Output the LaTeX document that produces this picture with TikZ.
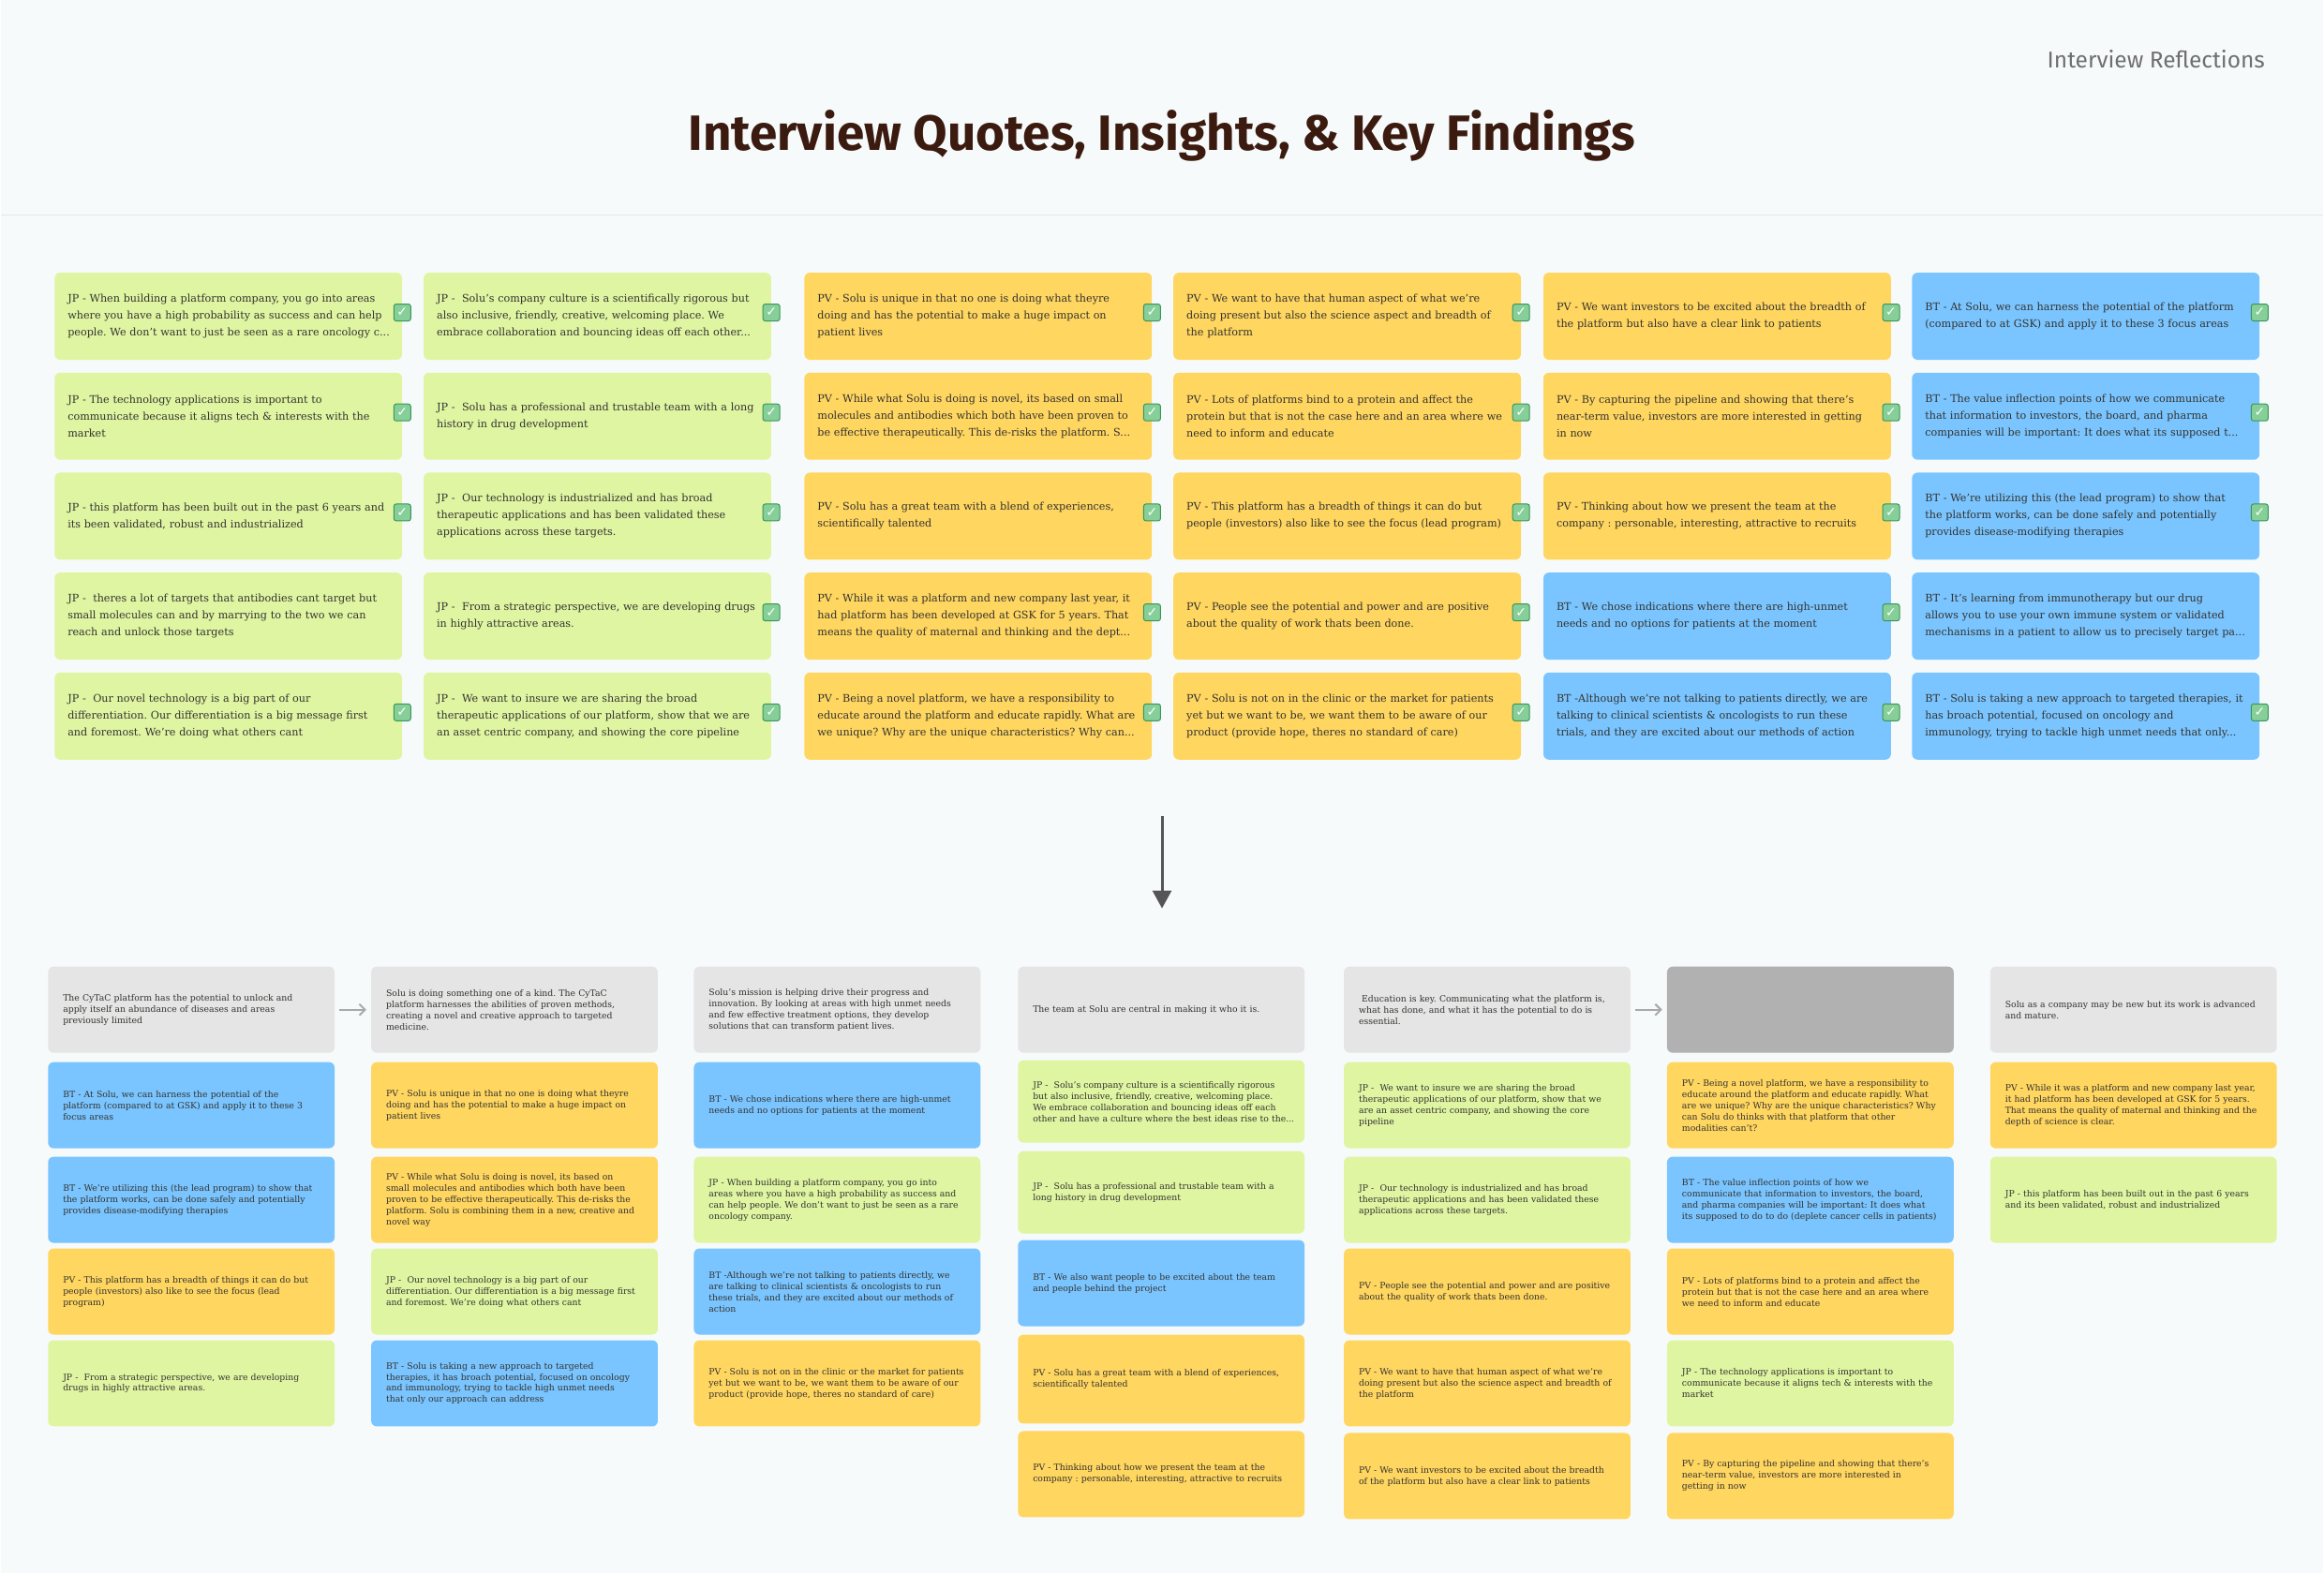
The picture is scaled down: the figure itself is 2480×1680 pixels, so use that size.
\documentclass[tikz,border=0pt]{standalone}
\usepackage{fontspec}
\setmainfont{DejaVu Serif}
\newfontfamily\ivwhead{Fira Sans}
\newfontfamily\ivwsym{DejaVu Sans}
\usetikzlibrary{arrows.meta}
\frenchspacing
\definecolor{ivwBg}{HTML}{F7FAFB}
\definecolor{ivwRule}{HTML}{E4E8EB}
\definecolor{ivwTitle}{HTML}{3B1B10}
\definecolor{ivwSub}{HTML}{6F6F6F}
\definecolor{ivwInk}{HTML}{34322F}
\definecolor{ivwGreen}{HTML}{DFF5A2}
\definecolor{ivwYellow}{HTML}{FFD660}
\definecolor{ivwBlue}{HTML}{7AC5FF}
\definecolor{ivwGray}{HTML}{E5E5E5}
\definecolor{ivwDark}{HTML}{B1B1B1}
\definecolor{ivwTick}{HTML}{86CF98}
\definecolor{ivwTickEdge}{HTML}{3A955A}
\definecolor{ivwArrow}{HTML}{555555}
\definecolor{ivwLight}{HTML}{A9A9A9}
\tikzset{
  ivw top/.style={anchor=north west, rounded corners=6pt, minimum height=93pt, inner xsep=14pt, inner ysep=0pt, text width=343pt, align=left, font=\fontsize{11.2}{18}\selectfont, text=ivwInk},
  ivw low/.style={anchor=north west, rounded corners=6pt, minimum height=92pt, inner xsep=16pt, inner ysep=0pt, text width=274pt, align=left, font=\fontsize{9.3}{12}\selectfont, text=ivwInk},
  ivw check/.style={rounded corners=2.5pt, draw=ivwTickEdge, fill=ivwTick, line width=1pt, minimum size=18pt, inner sep=0pt, text=white, font=\ivwsym\bfseries\fontsize{14}{14}\selectfont},
  ivw title/.style={font=\ivwhead\bfseries\fontsize{53}{58}\selectfont, text=ivwTitle},
  ivw tag/.style={font=\ivwhead\fontsize{24.5}{28}\selectfont, text=ivwSub},
  ivw flow/.style={draw=ivwArrow, line width=3pt, -{Triangle[length=19pt,width=20pt]}},
  ivw next/.style={draw=ivwLight, line width=2pt, -{Straight Barb[length=6pt,width=12pt]}, shorten <=5pt, shorten >=5pt},
}
\begin{document}
\begin{tikzpicture}[x=1pt,y=-1pt]
  \fill[ivwBg] (0,0) rectangle (2480,1680);
  \draw[ivwRule, line width=1.2pt] (0,230) -- (2480,230);
  \node[ivw tag, anchor=east] (tag) at (2421,63) {Interview Reflections};
  \node[ivw title] (title) at (1240,145) {Interview Quotes, Insights, \& Key Findings};

  % quotes from the interviews
  \node[ivw top, fill=ivwGreen] (t11) at (57.5,291) {JP - When building a platform company, you go into areas\\where you have a high probability as success and can help\\\mbox{people. We don’t want to just be seen as a rare oncology c...}};
  \node[ivw top, fill=ivwGreen] (t12) at (57.5,397.75) {JP - The technology applications is important to\\communicate because it aligns tech \& interests with the\\market};
  \node[ivw top, fill=ivwGreen] (t13) at (57.5,504.5) {JP - this platform has been built out in the past 6 years and\\its been validated, robust and industrialized};
  \node[ivw top, fill=ivwGreen] (t14) at (57.5,611.25) {JP -~ theres a lot of targets that antibodies cant target but\\small molecules can and by marrying to the two we can\\reach and unlock those targets};
  \node[ivw top, fill=ivwGreen] (t15) at (57.5,718) {JP -~ Our novel technology is a big part of our\\differentiation. Our differentiation is a big message first\\and foremost. We’re doing what others cant};

  \node[ivw top, fill=ivwGreen] (t21) at (451.5,291) {JP -~ Solu’s company culture is a scientifically rigorous but\\also inclusive, friendly, creative, welcoming place. We\\embrace collaboration and bouncing ideas off each other...};
  \node[ivw top, fill=ivwGreen] (t22) at (451.5,397.75) {JP -~ Solu has a professional and trustable team with a long\\history in drug development};
  \node[ivw top, fill=ivwGreen] (t23) at (451.5,504.5) {JP -~ Our technology is industrialized and has broad\\therapeutic applications and has been validated these\\applications across these targets.};
  \node[ivw top, fill=ivwGreen] (t24) at (451.5,611.25) {JP -~ From a strategic perspective, we are developing drugs\\in highly attractive areas.};
  \node[ivw top, fill=ivwGreen] (t25) at (451.5,718) {JP -~ We want to insure we are sharing the broad\\therapeutic applications of our platform, show that we are\\an asset centric company, and showing the core pipeline};

  \node[ivw top, fill=ivwYellow] (t31) at (858,291) {PV - Solu is unique in that no one is doing what theyre\\doing and has the potential to make a huge impact on\\patient lives};
  \node[ivw top, fill=ivwYellow] (t32) at (858,397.75) {PV - While what Solu is doing is novel, its based on small\\molecules and antibodies which both have been proven to\\be effective therapeutically. This de-risks the platform. S...};
  \node[ivw top, fill=ivwYellow] (t33) at (858,504.5) {PV - Solu has a great team with a blend of experiences,\\scientifically talented};
  \node[ivw top, fill=ivwYellow] (t34) at (858,611.25) {PV - While it was a platform and new company last year, it\\had platform has been developed at GSK for 5 years. That\\means the quality of maternal and thinking and the dept...};
  \node[ivw top, fill=ivwYellow] (t35) at (858,718) {PV - Being a novel platform, we have a responsibility to\\educate around the platform and educate rapidly. What are\\we unique? Why are the unique characteristics? Why can...};

  \node[ivw top, fill=ivwYellow] (t41) at (1252,291) {PV - We want to have that human aspect of what we’re\\doing present but also the science aspect and breadth of\\the platform};
  \node[ivw top, fill=ivwYellow] (t42) at (1252,397.75) {PV - Lots of platforms bind to a protein and affect the\\protein but that is not the case here and an area where we\\need to inform and educate};
  \node[ivw top, fill=ivwYellow] (t43) at (1252,504.5) {PV - This platform has a breadth of things it can do but\\people (investors) also like to see the focus (lead program)};
  \node[ivw top, fill=ivwYellow] (t44) at (1252,611.25) {PV - People see the potential and power and are positive\\about the quality of work thats been done.};
  \node[ivw top, fill=ivwYellow] (t45) at (1252,718) {PV - Solu is not on in the clinic or the market for patients\\yet but we want to be, we want them to be aware of our\\product (provide hope, theres no standard of care)};

  \node[ivw top, fill=ivwYellow] (t51) at (1647,291) {PV - We want investors to be excited about the breadth of\\the platform but also have a clear link to patients};
  \node[ivw top, fill=ivwYellow] (t52) at (1647,397.75) {PV - By capturing the pipeline and showing that there's\\near-term value, investors are more interested in getting\\in now};
  \node[ivw top, fill=ivwYellow] (t53) at (1647,504.5) {PV - Thinking about how we present the team at the\\company : personable, interesting, attractive to recruits};
  \node[ivw top, fill=ivwBlue] (t54) at (1647,611.25) {BT - We chose indications where there are high-unmet\\needs and no options for patients at the moment};
  \node[ivw top, fill=ivwBlue] (t55) at (1647,718) {BT -Although we’re not talking to patients directly, we are\\talking to clinical scientists \& oncologists to run these\\trials, and they are excited about our methods of action};

  \node[ivw top, fill=ivwBlue] (t61) at (2040.5,291) {BT - At Solu, we can harness the potential of the platform\\(compared to at GSK) and apply it to these 3 focus areas};
  \node[ivw top, fill=ivwBlue] (t62) at (2040.5,397.75) {BT - The value inflection points of how we communicate\\that information to investors, the board, and pharma\\companies will be important: It does what its supposed t...};
  \node[ivw top, fill=ivwBlue] (t63) at (2040.5,504.5) {BT - We’re utilizing this (the lead program) to show that\\the platform works, can be done safely and potentially\\provides disease-modifying therapies};
  \node[ivw top, fill=ivwBlue] (t64) at (2040.5,611.25) {BT - It's learning from immunotherapy but our drug\\allows you to use your own immune system or validated\\mechanisms in a patient to allow us to precisely target pa...};
  \node[ivw top, fill=ivwBlue] (t65) at (2040.5,718) {BT - Solu is taking a new approach to targeted therapies, it\\has broach potential, focused on oncology and\\immunology, trying to tackle high unmet needs that only...};

  \foreach \k in {11,12,13,15,21,22,23,24,25,31,32,33,34,35,41,42,43,44,45,51,52,53,54,55,61,62,63,65}
    \node[ivw check] (k\k) at ([yshift=4pt]t\k.east) {✓};

  \coordinate (flowTop) at (1240,871);
  \coordinate (flowEnd) at (1240,970);
  \draw[ivw flow] (flowTop) -- (flowEnd);

  % grouped findings
  \node[ivw low, fill=ivwGray] (b11) at (50.5,1032) {The CyTaC platform has the potential to unlock and\\apply itself an abundance of diseases and areas\\previously limited};
  \node[ivw low, fill=ivwBlue] (b12) at (50.5,1134) {BT - At Solu, we can harness the potential of the\\platform (compared to at GSK) and apply it to these 3\\focus areas};
  \node[ivw low, fill=ivwBlue] (b13) at (50.5,1235) {BT - We’re utilizing this (the lead program) to show that\\the platform works, can be done safely and potentially\\provides disease-modifying therapies};
  \node[ivw low, fill=ivwYellow] (b14) at (50.5,1333) {PV - This platform has a breadth of things it can do but\\people (investors) also like to see the focus (lead\\program)};
  \node[ivw low, fill=ivwGreen] (b15) at (50.5,1431) {JP -~ From a strategic perspective, we are developing\\drugs in highly attractive areas.};

  \node[ivw low, fill=ivwGray] (b21) at (395.5,1032) {Solu is doing something one of a kind. The CyTaC\\platform harnesses the abilities of proven methods,\\creating a novel and creative approach to targeted\\medicine.};
  \node[ivw low, fill=ivwYellow] (b22) at (395.5,1134) {PV - Solu is unique in that no one is doing what theyre\\doing and has the potential to make a huge impact on\\patient lives};
  \node[ivw low, fill=ivwYellow] (b23) at (395.5,1235) {PV - While what Solu is doing is novel, its based on\\small molecules and antibodies which both have been\\proven to be effective therapeutically. This de-risks the\\platform. Solu is combining them in a new, creative and\\novel way};
  \node[ivw low, fill=ivwGreen] (b24) at (395.5,1333) {JP -~ Our novel technology is a big part of our\\differentiation. Our differentiation is a big message first\\and foremost. We’re doing what others cant};
  \node[ivw low, fill=ivwBlue] (b25) at (395.5,1431) {BT - Solu is taking a new approach to targeted\\therapies, it has broach potential, focused on oncology\\and immunology, trying to tackle high unmet needs\\that only our approach can address};

  \node[ivw low, fill=ivwGray] (b31) at (740,1032) {Solu’s mission is helping drive their progress and\\innovation. By looking at areas with high unmet needs\\and few effective treatment options, they develop\\solutions that can transform patient lives.};
  \node[ivw low, fill=ivwBlue] (b32) at (740,1134) {BT - We chose indications where there are high-unmet\\needs and no options for patients at the moment};
  \node[ivw low, fill=ivwGreen] (b33) at (740,1235) {JP - When building a platform company, you go into\\areas where you have a high probability as success and\\can help people. We don’t want to just be seen as a rare\\oncology company.};
  \node[ivw low, fill=ivwBlue] (b34) at (740,1333) {BT -Although we’re not talking to patients directly, we\\are talking to clinical scientists \& oncologists to run\\these trials, and they are excited about our methods of\\action};
  \node[ivw low, fill=ivwYellow] (b35) at (740,1431) {PV - Solu is not on in the clinic or the market for patients\\yet but we want to be, we want them to be aware of our\\product (provide hope, theres no standard of care)};

  \node[ivw low, fill=ivwGray] (b41) at (1086,1032) {The team at Solu are central in making it who it is.};
  \node[ivw low, fill=ivwGreen, minimum height=88pt] (b42) at (1086,1132) {JP -~ Solu’s company culture is a scientifically rigorous\\but also inclusive, friendly, creative, welcoming place.\\We embrace collaboration and bouncing ideas off each\\\mbox{other and have a culture where the best ideas rise to the...}};
  \node[ivw low, fill=ivwGreen, minimum height=88pt] (b43) at (1086,1229) {JP -~ Solu has a professional and trustable team with a\\long history in drug development};
  \node[ivw low, fill=ivwBlue] (b44) at (1086,1324) {BT - We also want people to be excited about the team\\and people behind the project};
  \node[ivw low, fill=ivwYellow, minimum height=95pt] (b45) at (1086,1425) {PV - Solu has a great team with a blend of experiences,\\scientifically talented};
  \node[ivw low, fill=ivwYellow] (b46) at (1086,1528) {PV - Thinking about how we present the team at the\\company : personable, interesting, attractive to recruits};

  \node[ivw low, fill=ivwGray] (b51) at (1434,1032) {\hspace*{3pt}Education is key. Communicating what the platform is,\\what has done, and what it has the potential to do is\\essential.};
  \node[ivw low, fill=ivwGreen] (b52) at (1434,1134) {JP -~ We want to insure we are sharing the broad\\therapeutic applications of our platform, show that we\\are an asset centric company, and showing the core\\pipeline};
  \node[ivw low, fill=ivwGreen] (b53) at (1434,1235) {JP -~ Our technology is industrialized and has broad\\therapeutic applications and has been validated these\\applications across these targets.};
  \node[ivw low, fill=ivwYellow] (b54) at (1434,1333) {PV - People see the potential and power and are positive\\about the quality of work thats been done.};
  \node[ivw low, fill=ivwYellow] (b55) at (1434,1431) {PV - We want to have that human aspect of what we're\\doing present but also the science aspect and breadth of\\the platform};
  \node[ivw low, fill=ivwYellow] (b56) at (1434,1530) {PV - We want investors to be excited about the breadth\\of the platform but also have a clear link to patients};

  \node[ivw low, fill=ivwDark] (b61) at (1779,1032) {};
  \node[ivw low, fill=ivwYellow] (b62) at (1779,1134) {PV - Being a novel platform, we have a responsibility to\\educate around the platform and educate rapidly. What\\are we unique? Why are the unique characteristics? Why\\can Solu do thinks with that platform that other\\modalities can't?};
  \node[ivw low, fill=ivwBlue] (b63) at (1779,1235) {BT - The value inflection points of how we\\communicate that information to investors, the board,\\and pharma companies will be important: It does what\\its supposed to do to do (deplete cancer cells in patients)};
  \node[ivw low, fill=ivwYellow] (b64) at (1779,1333) {PV - Lots of platforms bind to a protein and affect the\\protein but that is not the case here and an area where\\we need to inform and educate};
  \node[ivw low, fill=ivwGreen] (b65) at (1779,1431) {JP - The technology applications is important to\\communicate because it aligns tech \& interests with the\\market};
  \node[ivw low, fill=ivwYellow] (b66) at (1779,1530) {PV - By capturing the pipeline and showing that there's\\near-term value, investors are more interested in\\getting in now};

  \node[ivw low, fill=ivwGray] (b71) at (2124,1032) {Solu as a company may be new but its work is advanced\\and mature.};
  \node[ivw low, fill=ivwYellow] (b72) at (2124,1134) {PV - While it was a platform and new company last year,\\it had platform has been developed at GSK for 5 years.\\That means the quality of maternal and thinking and the\\depth of science is clear.};
  \node[ivw low, fill=ivwGreen] (b73) at (2124,1235) {JP - this platform has been built out in the past 6 years\\and its been validated, robust and industrialized};

  \draw[ivw next] (b11) -- (b21);
  \draw[ivw next] (b51) -- (b61);
\end{tikzpicture}
\end{document}
